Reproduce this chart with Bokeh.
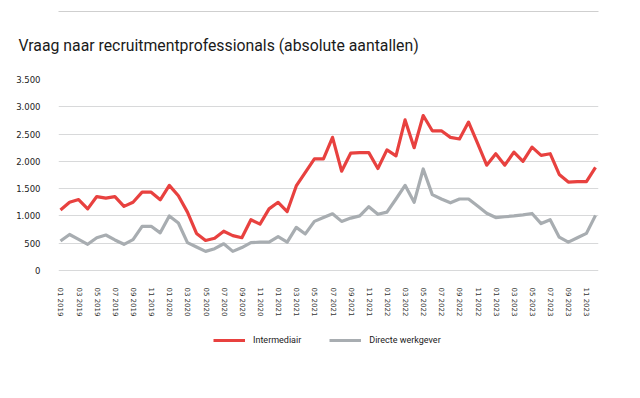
from bokeh.plotting import figure
from bokeh.models import (FixedTicker, Range1d, Legend, LegendItem, Title,
                          LinearAxis, ColumnDataSource)
from bokeh.embed import file_html
from bokeh.resources import INLINE

months = [
    "01 2019", "02 2019", "03 2019", "04 2019", "05 2019", "06 2019",
    "07 2019", "08 2019", "09 2019", "10 2019", "11 2019", "12 2019",
    "01 2020", "02 2020", "03 2020", "04 2020", "05 2020", "06 2020",
    "07 2020", "08 2020", "09 2020", "10 2020", "11 2020", "12 2020",
    "01 2021", "02 2021", "03 2021", "04 2021", "05 2021", "06 2021",
    "07 2021", "08 2021", "09 2021", "10 2021", "11 2021", "12 2021",
    "01 2022", "02 2022", "03 2022", "04 2022", "05 2022", "06 2022",
    "07 2022", "08 2022", "09 2022", "10 2022", "11 2022", "12 2022",
    "01 2023", "02 2023", "03 2023", "04 2023", "05 2023", "06 2023",
    "07 2023", "08 2023", "09 2023", "10 2023", "11 2023", "12 2023",
]

intermediair = [
    1110, 1250, 1300, 1130, 1355, 1325, 1355, 1175, 1250, 1435, 1435, 1295,
    1560, 1370, 1070, 680, 550, 590, 720, 640, 600, 930, 850, 1130,
    1250, 1080, 1550, 1800, 2045, 2045, 2440, 1820, 2150, 2160, 2160, 1870,
    2210, 2100, 2760, 2250, 2840, 2560, 2560, 2440, 2410, 2720, 2330, 1930,
    2140, 1930, 2170, 2000, 2260, 2110, 2140, 1760, 1620, 1630, 1630, 1890,
]

directe_werkgever = [
    540, 660, 570, 480, 600, 650, 560, 480, 565, 810, 810, 690,
    1000, 870, 510, 430, 350, 400, 490, 350, 420, 510, 520, 520,
    620, 520, 790, 670, 900, 970, 1040, 900, 960, 1000, 1170, 1030,
    1070, 1310, 1560, 1250, 1860, 1390, 1310, 1240, 1310, 1310, 1180, 1050,
    970, 985, 1000, 1020, 1045, 860, 930, 610, 520, 600, 680, 1010,
]

y_ticks = [0, 500, 1000, 1500, 2000, 2500, 3000, 3500]
y_tick_labels = ["0", "500", "1.000", "1.500", "2.000", "2.500", "3.000", "3.500"]

title_text = "Vraag naar recruitmentprofessionals (absolute aantallen)"
series_names = ["Intermediair", "Directe werkgever"]

FONT = "Roboto"
TICK_FONT = "DejaVu Sans"
RED = "#E8413F"
GREY = "#A8ADB1"

idx = list(range(len(months)))
src = ColumnDataSource(dict(x=idx, inter=intermediair, direct=directe_werkgever))

# frame spans page y 79 (3.500) down to 360 so the legend fits inside it;
# the value axis keeps 0 at y 270 (191 px per 3500)
Y_BOTTOM = -3500 * 90 / 191

p = figure(width=620, height=390, output_backend="svg", toolbar_location=None,
           x_range=Range1d(-0.22, 59.33), y_range=Range1d(Y_BOTTOM, 3500),
           min_border_left=58, min_border_right=22, min_border_top=79,
           min_border_bottom=30)
p.outline_line_color = None

xax = p.xaxis[0]
yax = p.yaxis[0]

# title (closest to the frame) and thin rule above it
p.add_layout(Title(text=title_text, align="left", offset=-40, standoff=47,
                   vertical_align="middle", text_font=FONT,
                   text_font_size="15.8px", text_font_style="normal",
                   text_color="#1a1a1a"), "above")
p.extra_x_ranges = {"rule": Range1d(0, 1)}
rule = LinearAxis(x_range_name="rule", ticker=FixedTicker(ticks=[]),
                  axis_line_color="#CFCFCF", axis_line_width=1.2,
                  major_tick_line_color=None, minor_tick_line_color=None,
                  major_tick_out=0, major_tick_in=0, minor_tick_out=0,
                  minor_tick_in=0, major_label_text_font_size="0px")
p.add_layout(rule, "above")

x_tick_pos = idx[::2]
xax.ticker = FixedTicker(ticks=x_tick_pos)
xax.major_label_overrides = {i: months[i] for i in x_tick_pos}
xax.major_label_orientation = "vertical"
xax.major_label_standoff = -79
xax.axis_line_color = None
xax.major_tick_line_color = None
xax.minor_tick_line_color = None
xax.major_label_text_font = TICK_FONT
xax.major_label_text_font_size = "7px"
xax.major_label_text_color = "#333333"

yax.ticker = FixedTicker(ticks=y_ticks)
yax.major_label_overrides = dict(zip(y_ticks, y_tick_labels))
yax.major_label_standoff = 12
yax.axis_line_color = None
yax.major_tick_line_color = None
yax.minor_tick_line_color = None
yax.major_label_text_font = TICK_FONT
yax.major_label_text_font_size = "8.5px"
yax.major_label_text_color = "#222222"

p.xgrid.grid_line_color = None
p.ygrid.ticker = FixedTicker(ticks=y_ticks)
p.ygrid.grid_line_color = "#D8D9DA"
p.ygrid.grid_line_width = 1.2

r2 = p.line("x", "direct", source=src, line_color=GREY, line_width=3.2,
            line_join="round")
r1 = p.line("x", "inter", source=src, line_color=RED, line_width=3.2,
            line_join="round")

legend = Legend(items=[LegendItem(label=series_names[0], renderers=[r1]),
                       LegendItem(label=series_names[1], renderers=[r2])],
                orientation="horizontal", location=(155, 15),
                glyph_width=32, glyph_height=10, label_standoff=8, spacing=28,
                padding=0, margin=0, border_line_color=None,
                background_fill_alpha=0, label_text_font=FONT,
                label_text_font_size="9px", label_text_color="#222222")
p.add_layout(legend)

open("out.html", "w").write(file_html(p, INLINE))
